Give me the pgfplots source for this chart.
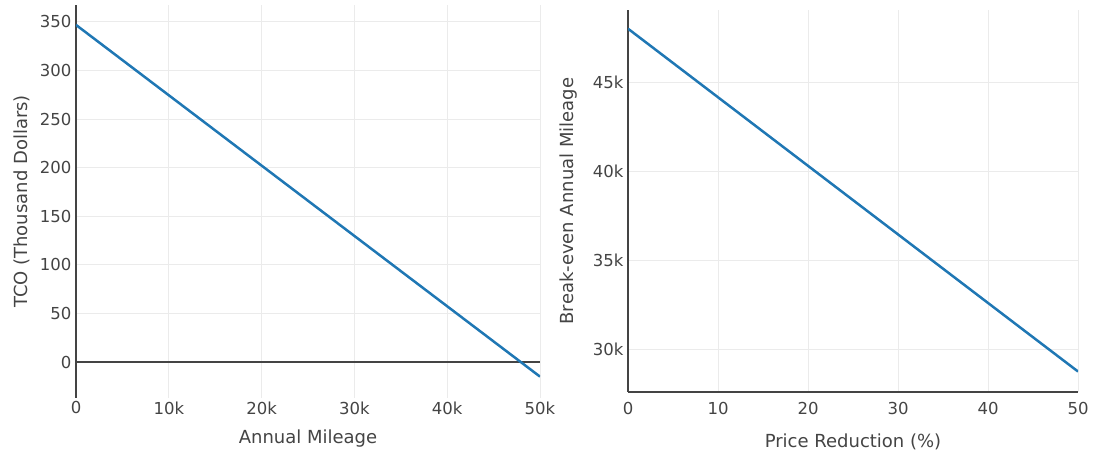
\documentclass[border=0pt]{standalone}
\usepackage{fontspec}
\setmainfont{DejaVu Sans}
\usepackage{pgfplots}
\pgfplotsset{compat=1.18}
\definecolor{tx}{HTML}{444444}
\definecolor{ln}{HTML}{1F77B4}
\definecolor{gr}{HTML}{EBEBEB}
\pgfplotsset{
  common/.style={
    anchor=south west, scale only axis,
    tick style={draw=none},
    xmajorgrids, ymajorgrids,
    grid style={gr, line width=1pt},
    separate axis lines,
    axis x line*=bottom, axis y line*=left,
    tick label style={font=\fontsize{16.5}{16.5}\selectfont, text=tx},
    label style={font=\fontsize{18}{18}\selectfont, text=tx},
    scaled ticks=false,
    clip=true,
  }
}
\begin{document}
\begin{tikzpicture}
\useasboundingbox (0pt,0pt) rectangle (1095pt,457pt);
\begin{axis}[common,
  at={(76pt,59pt)}, width=464pt, height=393pt,
  xmin=0, xmax=50000, ymin=-37, ymax=367.5,
  xtick={0,10000,20000,30000,40000,50000},
  xticklabels={0,10k,20k,30k,40k,50k},
  ytick={0,50,100,150,200,250,300,350},
  yticklabels={0,50,100,150,200,250,300,350},
  x axis line style={draw=none},
  y axis line style={tx, line width=2.5pt},
  xticklabel style={yshift=0pt},
  yticklabel style={xshift=-1pt},
  xlabel={Annual Mileage},
  ylabel={TCO (Thousand Dollars)},
  xlabel style={at={(axis description cs:0.5,-0.104)}, anchor=center},
  ylabel style={at={(axis description cs:-0.116,0.5)}, anchor=center, rotate=0},
]
\addplot[tx, line width=1.3pt, forget plot] coordinates {(0,0) (50000,0)};
\addplot[ln, line width=2.5pt] coordinates {(0,347) (50000,-15)};
\end{axis}
\begin{axis}[common,
  at={(628pt,65pt)}, width=450pt, height=382pt,
  xmin=0, xmax=50, ymin=27600, ymax=49050,
  xtick={0,10,20,30,40,50},
  xticklabels={0,10,20,30,40,50},
  ytick={30000,35000,40000,45000},
  yticklabels={30k,35k,40k,45k},
  axis line style={tx, line width=2.5pt},
  xticklabel style={yshift=-7pt},
  yticklabel style={xshift=-1pt},
  xlabel={Price Reduction (\%)},
  ylabel={Break-even Annual Mileage},
  xlabel style={at={(axis description cs:0.5,-0.13)}, anchor=center},
  ylabel style={at={(axis description cs:-0.133,0.5)}, anchor=center, rotate=0},
]
\addplot[ln, line width=2.5pt] coordinates {(0,48000) (50,28750)};
\end{axis}
\end{tikzpicture}
\end{document}
